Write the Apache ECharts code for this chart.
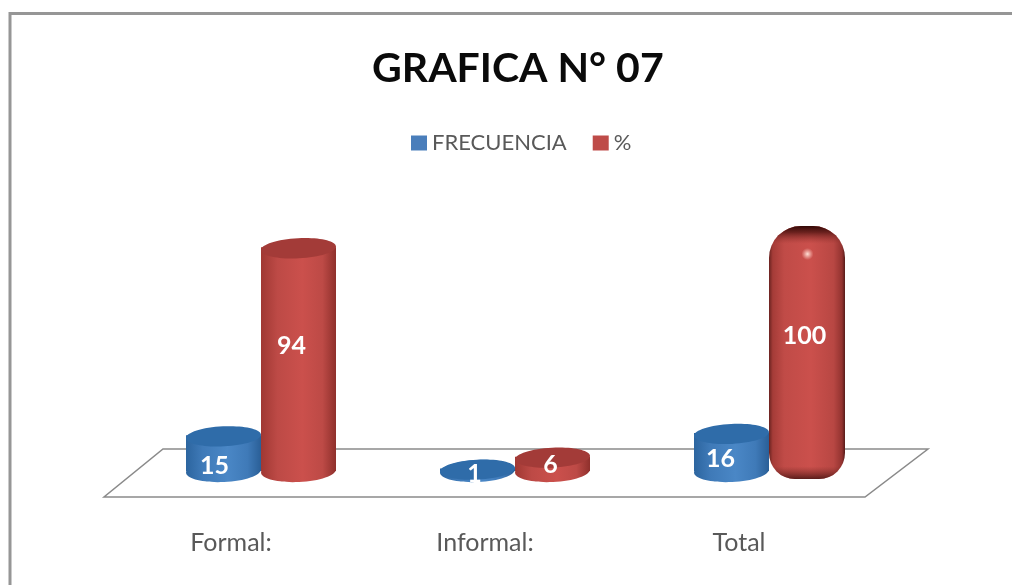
<!DOCTYPE html>
<html>
<head>
<meta charset="utf-8">
<style>html,body{margin:0;padding:0;background:#fff}#c{width:1012px;height:585px}</style>
<script src="https://cdn.jsdelivr.net/npm/echarts@6/dist/echarts.min.js"></script>
</head>
<body>
<div id="c"></div>
<script>
const categories = ['Formal:', 'Informal:', 'Total'];
const frecuencia = [15, 1, 16];
const porcentaje = [94, 6, 100];
const seriesNames = ['FRECUENCIA', '%'];

const chart = echarts.init(document.getElementById('c'), null, {renderer: 'canvas'});

const BAR_FRACTION = 75 / 254;
const RY = 11;
const TILT = 0.05;
const palette = [
  {edgeL: '#2c659f', soft: '#3f7ab8', mid: '#4a87c6', edgeR: '#2a5f97', top: '#2f6ca9', legend: '#4a7ebb'},
  {edgeL: '#a03833', soft: '#bd4a46', mid: '#cb504c', edgeR: '#8f302c', top: '#a33b38', legend: '#be4b48'}
];
// label placement tweaks per series and category (dx, dy in px)
const labelNudge = [
  [[-9, 16], [-3, 4], [-11, 11]],
  [[-7, 9], [-2, 3], [-2, 8]]
];

function bodyFill(p) {
  return new echarts.graphic.LinearGradient(0, 0, 1, 0, [
    {offset: 0, color: p.edgeL},
    {offset: 0.22, color: p.soft},
    {offset: 0.55, color: p.mid},
    {offset: 0.82, color: p.soft},
    {offset: 1, color: p.edgeR}
  ]);
}

function renderCylinder(seriesIdx) {
  return function (params, api) {
    const v = api.value(1);
    const cat = api.value(0);
    const band = api.size([1, 0])[0];
    const w = band * BAR_FRACTION;
    const base = api.coord([cat, 0]);
    const top = api.coord([cat, v]);
    const cx = base[0] + (seriesIdx === 0 ? -1 : 1) * w / 2;
    const p = palette[seriesIdx];
    const fill = bodyFill(p);
    const nudge = labelNudge[seriesIdx][cat];
    const labelY = api.coord([cat, v * 0.6])[1] + nudge[1];
    const label = {
      type: 'text',
      z2: 20,
      style: {
        x: cx + nudge[0], y: labelY, text: String(v),
        fill: '#fff', font: 'bold 25px Lato',
        align: 'center', verticalAlign: 'middle'
      }
    };
    const rounded = cat === 2 && seriesIdx === 1;
    if (rounded) {
      const side = new echarts.graphic.LinearGradient(0, 0, 1, 0, [
        {offset: 0, color: '#6a2320'},
        {offset: 0.05, color: '#a53c38'},
        {offset: 0.2, color: '#c04b47'},
        {offset: 0.55, color: '#cb504c'},
        {offset: 0.85, color: '#b84743'},
        {offset: 0.96, color: '#933330'},
        {offset: 1, color: '#571b19'}
      ]);
      const cap = new echarts.graphic.LinearGradient(0, 0, 0, 1, [
        {offset: 0, color: 'rgba(50,8,6,1)'},
        {offset: 0.025, color: 'rgba(90,25,22,0.85)'},
        {offset: 0.07, color: 'rgba(150,50,46,0)'},
        {offset: 0.95, color: 'rgba(120,40,36,0)'},
        {offset: 1, color: 'rgba(70,20,18,0.85)'}
      ]);
      const glow = new echarts.graphic.RadialGradient(0.5, 0.5, 0.5, [
        {offset: 0, color: 'rgba(255,225,215,1)'},
        {offset: 1, color: 'rgba(255,200,190,0)'}
      ]);
      const t = top[1] - 7;
      const r = [32, 32, 26, 26];
      const shape = {x: cx - w / 2, y: t, width: w + 1, height: base[1] + 8 - t, r: r};
      return {
        type: 'group',
        children: [
          {type: 'rect', shape: shape, style: {fill: side}},
          {type: 'rect', shape: shape, style: {fill: cap}},
          {type: 'ellipse', shape: {cx: cx + 1, cy: t + 28, rx: 15, ry: 6}, style: {fill: glow}},
          label
        ]
      };
    }
    return {
      type: 'group',
      children: [
        {type: 'ellipse', shape: {cx: cx, cy: base[1], rx: w / 2, ry: RY}, rotation: TILT, originX: cx, originY: base[1], style: {fill: fill}},
        {type: 'rect', shape: {x: cx - w / 2, y: top[1], width: w, height: base[1] - top[1]}, style: {fill: fill}},
        {type: 'ellipse', shape: {cx: cx, cy: top[1] + 1, rx: w / 2, ry: RY - 1}, rotation: TILT, originX: cx, originY: top[1], style: {fill: p.top}},
        label
      ]
    };
  };
}

function seriesOf(idx, values) {
  return {
    name: seriesNames[idx],
    type: 'custom',
    coordinateSystem: 'cartesian2d',
    renderItem: renderCylinder(idx),
    itemStyle: {color: palette[idx].legend},
    encode: {x: 0, y: 1},
    clip: false,
    z: 5 + idx,
    data: values.map((v, i) => [i, v])
  };
}

chart.setOption({
  backgroundColor: '#fff',
  animation: false,
  title: {
    text: 'GRAFICA N° 07',
    left: 367, top: 43,
    textStyle: {fontFamily: 'Lato', fontWeight: 'bold', fontSize: 41, color: '#0a0a0a'}
  },
  legend: {
    left: 406, top: 127,
    icon: 'rect',
    itemWidth: 16, itemHeight: 15, itemGap: 26,
    data: seriesNames,
    textStyle: {fontFamily: 'Lato', fontSize: 22, color: '#595959'}
  },
  grid: {left: 134, width: 762, top: 233, height: 238},
  xAxis: {
    type: 'category',
    data: categories,
    axisLine: {show: false},
    axisTick: {show: false},
    axisLabel: {
      interval: 0, margin: 59, padding: [0, 60, 0, 0],
      fontFamily: 'Lato', fontSize: 25, color: '#595959'
    }
  },
  yAxis: {type: 'value', min: 0, max: 100, show: false},
  graphic: [
    {type: 'rect', z: 0, shape: {x: 10, y: 13.5, width: 1040, height: 620},
      style: {fill: '#fff', stroke: '#969696', lineWidth: 3}},
    {type: 'polygon', z: 1, shape: {points: [[163, 449], [928, 449], [865, 497], [104, 497]]},
      style: {fill: 'none', stroke: '#8a8a8a', lineWidth: 1.5}}
  ],
  series: [seriesOf(0, frecuencia), seriesOf(1, porcentaje)]
});
</script>
</body>
</html>
